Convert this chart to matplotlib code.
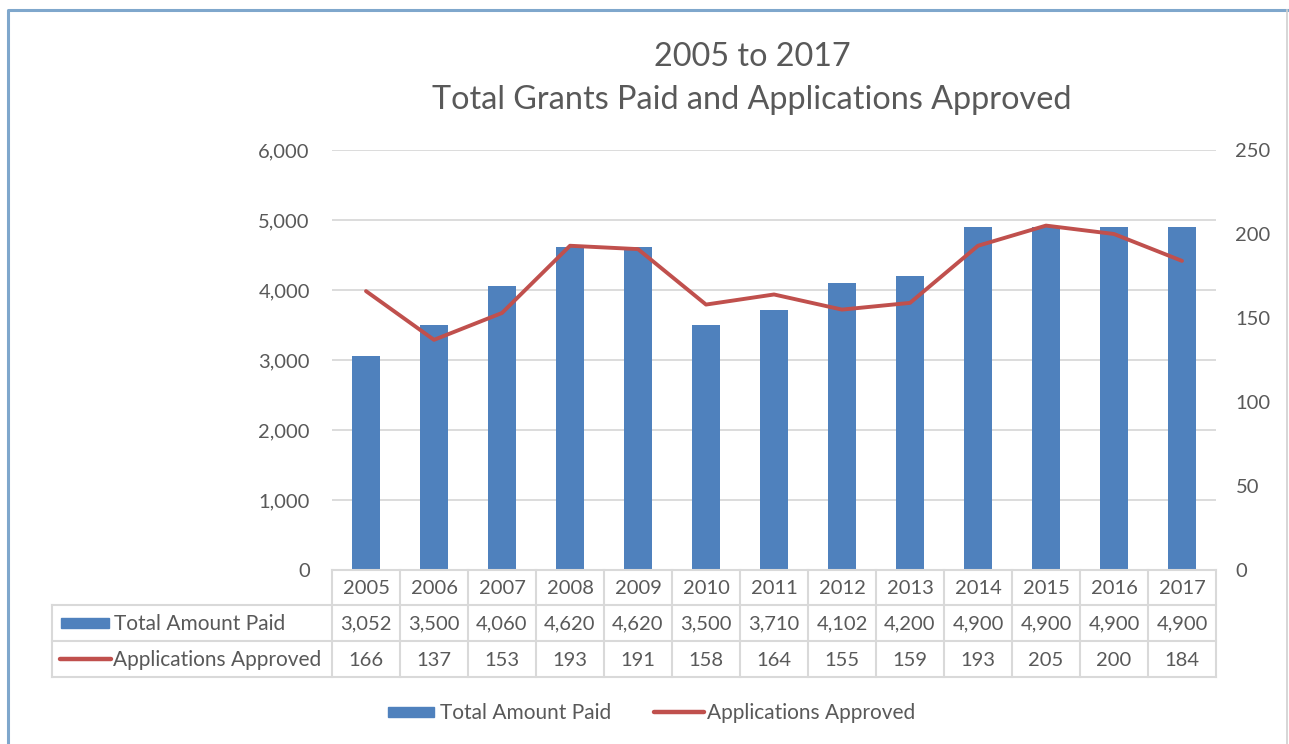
import numpy as np
import matplotlib.pyplot as plt
from matplotlib.patches import Rectangle

plt.rcParams['font.family'] = ['Lato', 'DejaVu Sans']

years = ['2005', '2006', '2007', '2008', '2009', '2010', '2011',
         '2012', '2013', '2014', '2015', '2016', '2017']
total_paid = [3052, 3500, 4060, 4620, 4620, 3500, 3710, 4102, 4200, 4900, 4900, 4900, 4900]
apps_approved = [166, 137, 153, 193, 191, 158, 164, 155, 159, 193, 205, 200, 184]

bar_color = '#4F81BD'
line_color = '#C0504D'
text_color = '#595959'
grid_color = '#D9D9D9'
fs = 14.5
fs_tbl = 15

W, H = 1289, 744
fig = plt.figure(figsize=(W / 100, H / 100), dpi=100)

# plot area in pixels
px_left, px_right, px_top, px_bottom = 332, 1216, 150, 570
ax = fig.add_axes([px_left / W, 1 - px_bottom / H, (px_right - px_left) / W, (px_bottom - px_top) / H])
x = np.arange(len(years))
ax.bar(x, total_paid, width=0.42, color=bar_color, zorder=2)
ax.set_xlim(-0.5, len(years) - 0.5)
ax.set_ylim(0, 6000)
ax.set_yticks(range(0, 6001, 1000))
ax.set_yticklabels([f'{v:,}' for v in range(0, 6001, 1000)])
ax.yaxis.grid(True, color=grid_color, linewidth=1.3, zorder=0)
ax.set_xticks([])
for s in ax.spines.values():
    s.set_visible(False)
ax.tick_params(axis='y', length=0, pad=16, labelsize=fs, labelcolor=text_color)

ax2 = ax.twinx()
ax2.plot(x, apps_approved, color=line_color, linewidth=2.8, solid_capstyle='round', zorder=3)
ax2.set_ylim(0, 250)
ax2.set_yticks(range(0, 251, 50))
for s in ax2.spines.values():
    s.set_visible(False)
ax2.tick_params(axis='y', length=0, pad=14, labelsize=fs, labelcolor=text_color)

# overlay for frame, title, data table and legend (pixel coordinates)
ov = fig.add_axes([0, 0, 1, 1], zorder=5)
ov.set_xlim(0, W)
ov.set_ylim(H, 0)
ov.axis('off')
ov.patch.set_alpha(0)

# chart frame
ov.plot([8, 8, W], [H, 10, 10], color='#7FA7CC', linewidth=2.2)
ov.plot([1287, 1287], [10, H], color='#D0D0D0', linewidth=1.2)

# title
ov.text(752, 57, '2005 to 2017', ha='center', va='center', fontsize=23.3, color=text_color)
ov.text(752, 100, 'Total Grants Paid and Applications Approved', ha='center', va='center',
        fontsize=23.3, color=text_color)

# data table
col_w = (px_right - px_left) / len(years)
row_y = [570, 605, 641, 677]
tbl_left = 52
lw = 1.5
for i, yr in enumerate(years):
    cx = px_left + col_w * (i + 0.5)
    ov.text(cx, (row_y[0] + row_y[1]) / 2 + 1, yr, ha='center', va='center', fontsize=fs, color=text_color)
    ov.text(cx, (row_y[1] + row_y[2]) / 2 + 1, f'{total_paid[i]:,}', ha='center', va='center',
            fontsize=fs, color=text_color)
    ov.text(cx, (row_y[2] + row_y[3]) / 2 + 1, str(apps_approved[i]), ha='center', va='center',
            fontsize=fs, color=text_color)
for i in range(len(years) + 1):
    xx = px_left + col_w * i
    ov.plot([xx, xx], [row_y[0], row_y[3]], color=grid_color, linewidth=lw)
ov.plot([tbl_left, tbl_left], [row_y[1], row_y[3]], color=grid_color, linewidth=lw)
ov.plot([px_left, px_right], [row_y[0], row_y[0]], color=grid_color, linewidth=lw)
for yy in row_y[1:]:
    ov.plot([tbl_left, px_right], [yy, yy], color=grid_color, linewidth=lw)

# legend keys inside table
mid1 = (row_y[1] + row_y[2]) / 2
mid2 = (row_y[2] + row_y[3]) / 2
ov.add_patch(Rectangle((61, mid1 - 5), 48, 10, color=bar_color))
ov.text(114, mid1 + 1, 'Total Amount Paid', ha='left', va='center', fontsize=fs_tbl, color=text_color)
ov.plot([60, 111], [mid2, mid2], color=line_color, linewidth=3.2, solid_capstyle='round')
ov.text(113, mid2 + 1, 'Applications Approved', ha='left', va='center', fontsize=fs_tbl, color=text_color)

# bottom legend
ly = 712
ov.add_patch(Rectangle((388, ly - 5), 46, 10, color=bar_color))
ov.text(440, ly + 1, 'Total Amount Paid', ha='left', va='center', fontsize=fs_tbl, color=text_color)
ov.plot([654, 704], [ly, ly], color=line_color, linewidth=3.2, solid_capstyle='round')
ov.text(707, ly + 1, 'Applications Approved', ha='left', va='center', fontsize=fs_tbl, color=text_color)

fig.savefig('out.png', dpi=100)
